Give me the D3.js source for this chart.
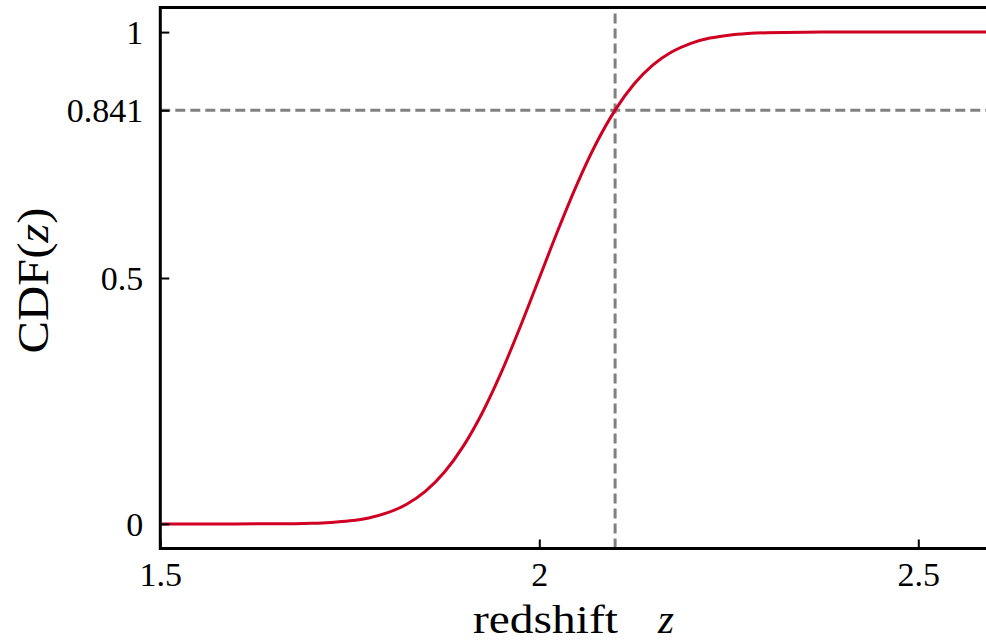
<!DOCTYPE html>
<html><head><meta charset="utf-8">
<script src="https://cdn.jsdelivr.net/npm/d3@7"></script>
<style>body{margin:0;background:#fff}</style>
</head><body>
<svg id="c" width="986" height="643"></svg>
<script>
const zValues = [1.5,1.55,1.6,1.65,1.7,1.725,1.75,1.775,1.8,1.825,1.85,1.875,1.9,1.925,1.95,1.975,2.0,2.025,2.05,2.075,2.1,2.125,2.15,2.175,2.2,2.225,2.25,2.275,2.3,2.35,2.4,2.5,2.6];
const cdfValues = [0,0,0.00003,0.0002,0.00135,0.003,0.0062,0.0122,0.0228,0.0401,0.0668,0.1056,0.1587,0.2266,0.3085,0.4013,0.5,0.5987,0.6915,0.7734,0.8413,0.8944,0.9332,0.9599,0.9772,0.9878,0.9938,0.997,0.99865,0.9998,1,1,1];
const xTicks = [1.5, 2, 2.5];
const xTickLabels = ["1.5", "2", "2.5"];
const yTicks = [0, 0.5, 0.841, 1];
const yTickLabels = ["0", "0.5", "0.841", "1"];
const markerZ = [2.1];
const markerCDF = [0.841];

const FONT = "'Liberation Serif','Times New Roman',serif";
const svg = d3.select("#c");
const L = 160.3, T = 7.5, B = 548.5;
const x = d3.scaleLinear().domain([1.5, 2.6]).range([L, L + 1.1 * 758]);
const y = d3.scaleLinear().domain([-0.05, 1.05]).range([B, T]);

svg.append("defs").append("clipPath").attr("id", "clip")
  .append("rect").attr("x", L).attr("y", T).attr("width", 1100).attr("height", B - T);

const plot = svg.append("g").attr("clip-path", "url(#clip)");

// reference lines
plot.selectAll(".vref").data(markerZ).enter().append("line")
  .attr("x1", d => x(d)).attr("x2", d => x(d))
  .attr("y1", y(-0.05)).attr("y2", y(1.05))
  .attr("stroke", "#808080").attr("stroke-width", 3).attr("stroke-dasharray", "10,5");
plot.selectAll(".href").data(markerCDF).enter().append("line")
  .attr("x1", x(1.5)).attr("x2", x(2.6))
  .attr("y1", d => y(d)).attr("y2", d => y(d))
  .attr("stroke", "#808080").attr("stroke-width", 3).attr("stroke-dasharray", "10,5");

const pts = zValues.map((z, i) => [z, cdfValues[i]]);
plot.append("path").datum(pts)
  .attr("d", d3.line().x(d => x(d[0])).y(d => y(d[1])).curve(d3.curveMonotoneX))
  .attr("fill", "none").attr("stroke", "#cf0022").attr("stroke-width", 3);

// axes
const xAxis = d3.axisBottom(x).tickValues(xTicks).tickFormat((d, i) => xTickLabels[i])
  .tickSizeInner(-9).tickSizeOuter(0).tickPadding(13);
const gx = svg.append("g").attr("transform", `translate(0,${B})`).call(xAxis);
const yAxis = d3.axisLeft(y).tickValues(yTicks).tickFormat((d, i) => yTickLabels[i])
  .tickSizeInner(-9).tickSizeOuter(0).tickPadding(17);
const gy = svg.append("g").attr("transform", `translate(${L},0)`).call(yAxis);
[gx, gy].forEach(g => {
  g.select(".domain").remove();
  g.selectAll(".tick line").attr("stroke", "#000").attr("stroke-width", 2);
  g.selectAll(".tick text").attr("fill", "#000").style("font-family", FONT).style("font-size", "34px");
});
gy.selectAll(".tick text").attr("dy", "0.34em");

// spines
svg.append("line").attr("x1", L).attr("x2", L).attr("y1", T - 1.5).attr("y2", B + 1.5)
  .attr("stroke", "#000").attr("stroke-width", 3);
svg.append("line").attr("x1", L).attr("x2", 986).attr("y1", B).attr("y2", B)
  .attr("stroke", "#000").attr("stroke-width", 3);
svg.append("line").attr("x1", L).attr("x2", 986).attr("y1", T).attr("y2", T)
  .attr("stroke", "#000").attr("stroke-width", 3);

// x label
svg.append("text").attr("x", 473).attr("y", 633)
  .attr("textLength", 145).attr("lengthAdjust", "spacingAndGlyphs")
  .style("font-family", FONT).style("font-size", "41px").text("redshift");
svg.append("text").attr("x", 658).attr("y", 633)
  .style("font-family", FONT).style("font-size", "41px").style("font-style", "italic").text("z");

// y label
const yl = svg.append("text")
  .attr("transform", "translate(48,280.5) rotate(-90)")
  .attr("text-anchor", "middle")
  .attr("textLength", 146).attr("lengthAdjust", "spacingAndGlyphs")
  .style("font-family", FONT).style("font-size", "45px");
yl.append("tspan").text("CDF(");
yl.append("tspan").style("font-style", "italic").text("z");
yl.append("tspan").text(")");
</script>
</body></html>
